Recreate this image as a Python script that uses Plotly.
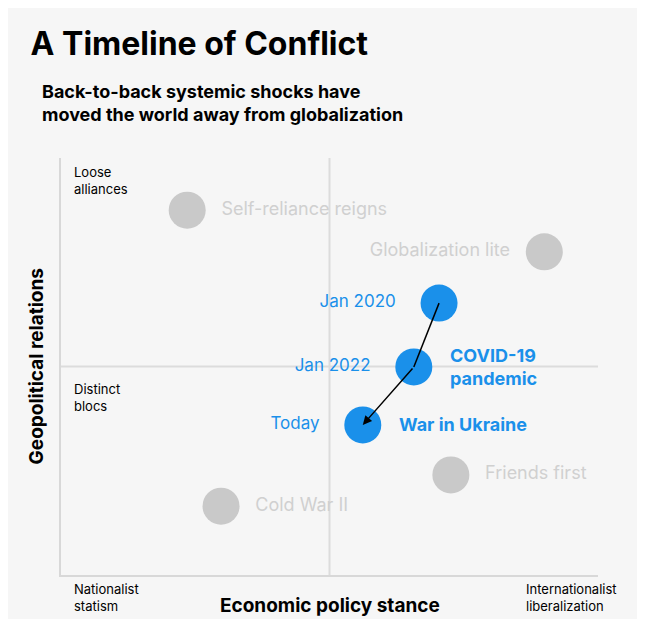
import plotly.graph_objects as go

grey_names = ["Self-reliance reigns", "Globalization lite", "Friends first", "Cold War II"]
grey_x = [2.35, 9.0, 7.26, 2.98]
grey_y = [8.75, 7.75, 2.4, 1.65]
grey_pos = ["middle right", "middle left", "middle right", "middle right"]

blue_names = ["Jan 2020", "Jan 2022", "Today"]
blue_x = [7.04, 6.57, 5.62]
blue_y = [6.52, 4.99, 3.6]
event_names = ["<b>COVID-19<br>pandemic</b>", "<b>War in Ukraine</b>"]
event_x = [6.57, 5.62]
event_y = [4.99, 3.6]

F = "Inter"
GREY = "#c9c9c9"
BLUE = "#1a90ea"
fig = go.Figure()
fig.add_trace(go.Scatter(x=grey_x, y=grey_y, mode="markers+text", text=["  " + n + "  " for n in grey_names],
                         textposition=grey_pos, marker=dict(size=37, color=GREY),
                         textfont=dict(family=F, size=18, color="#d0d0d0")))
fig.add_trace(go.Scatter(x=blue_x, y=blue_y, mode="markers+text", text=[n + "    " for n in blue_names],
                         textposition="middle left", marker=dict(size=37, color=BLUE),
                         textfont=dict(family=F, size=17, color=BLUE)))
for ex, ey, en in zip(event_x, event_y, event_names):
    fig.add_annotation(x=ex, y=ey, xref="x", yref="y", text=en, showarrow=False, xanchor="left",
                       xshift=34, align="left", font=dict(family=F, size=18, color=BLUE))
fig.add_trace(go.Scatter(x=blue_x[:2], y=blue_y[:2], mode="lines", line=dict(color="black", width=1.5)))
fig.add_annotation(x=blue_x[2], y=blue_y[2], ax=blue_x[1], ay=blue_y[1], xref="x", yref="y", axref="x", ayref="y",
                   showarrow=True, arrowhead=2, arrowsize=1.2, arrowwidth=1.5, arrowcolor="black", text="")

ann = [
    (0.02, 0.99, "Loose<br>alliances", "left", "top", 13),
    (0.02, 0.47, "Distinct<br>blocs", "left", "top", 13),
    (0.02, -0.01, "Nationalist<br>statism", "left", "top", 13),
    (1.04, -0.01, "Internationalist<br>liberalization", "right", "top", 13),
    (0.5, -0.04, "<b>Economic policy stance</b>", "center", "top", 19),
]
for x, y, t, xa, ya, s in ann:
    fig.add_annotation(x=x, y=y, xref="paper", yref="paper", text=t, showarrow=False, xanchor=xa, yanchor=ya,
                       align="left", font=dict(family=F, size=s, color="black"))
fig.add_annotation(x=-0.07, y=0.5, xref="paper", yref="paper", text="<b>Geopolitical relations</b>", textangle=-90,
                   showarrow=False, font=dict(family=F, size=19, color="black"))
fig.add_annotation(x=-0.04, y=1.19, xref="paper", yref="paper", yanchor="top", xanchor="left", align="left",
                   showarrow=False, text="<b>Back-to-back systemic shocks have<br>moved the world away from globalization</b>",
                   font=dict(family=F, size=18, color="black"))

fig.update_layout(
    width=645, height=619, paper_bgcolor="#f6f6f6", plot_bgcolor="#f6f6f6", showlegend=False,
    margin=dict(l=53, r=55, t=150, b=52),
    title=dict(text="<b>A Timeline of Conflict</b>", x=0.035, y=0.96, xanchor="left", yanchor="top",
               font=dict(family=F, size=32, color="black")),
    xaxis=dict(range=[0, 10], showticklabels=False, showgrid=False, zeroline=False,
               showline=True, linecolor="#d8d8d8", linewidth=2, fixedrange=True),
    yaxis=dict(range=[0, 10], showticklabels=False, showgrid=False, zeroline=False,
               showline=True, linecolor="#d8d8d8", linewidth=2, fixedrange=True),
)
fig.add_shape(type="line", x0=5, x1=5, y0=0, y1=10, xref="x", yref="y", line=dict(color="#dcdcdc", width=2), layer="below")
fig.add_shape(type="line", x0=0, x1=10, y0=5, y1=5, xref="x", yref="y", line=dict(color="#dcdcdc", width=2), layer="below")
fig.write_html("out.html")
